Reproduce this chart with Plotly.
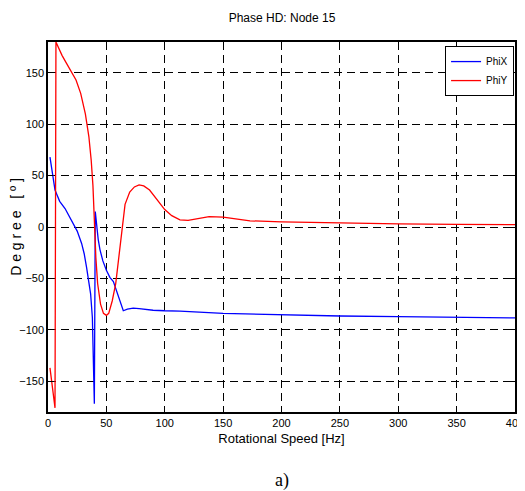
import plotly.graph_objects as go

# PhiY (red)
phiy_x = [1.7, 4, 6, 6.8, 8, 12, 16, 20, 24, 28, 32, 35, 37, 38.5, 39.5, 41, 42.5, 45, 47.5, 50, 52, 55, 58, 61.7, 64, 66, 70, 74, 78, 82, 87, 93, 100, 106, 113, 120, 128, 138, 150, 164, 173, 200, 250, 300, 350, 400]
phiy_y = [-137, -158, -176, 180, 177, 167, 159, 151, 143, 130, 110, 88, 65, 40, 5, -30, -55, -75, -84, -86, -84, -72, -55, -19, 3, 22, 34, 39, 41, 40, 36, 27, 17, 11, 7, 6.5, 8, 10, 9.7, 7.5, 6, 5, 3.8, 3, 2.6, 2.3]

# PhiX (blue)
phix_x = [1.7, 3, 4.5, 6, 7.4, 10, 14.6, 18, 21.7, 25, 28.8, 31, 33, 35, 36.5, 38, 39, 39.7, 40.5, 41.7, 43, 44.5, 47, 50, 53, 56, 58, 60, 62, 64.5, 68, 73, 78, 82, 90, 100, 113, 150, 200, 250, 300, 350, 400]
phix_y = [68, 58, 46, 36, 32, 25, 18, 11, 4, -4, -16, -26, -39, -52, -65, -88, -130, -172, 15, 0, -12, -22, -33, -42, -49, -53, -60, -66, -75, -81.5, -80, -79, -79.5, -80, -81, -81.5, -81.8, -84, -85.6, -86.6, -87.3, -87.8, -88.5]

x_ticks = [0, 50, 100, 150, 200, 250, 300, 350, 400]
y_ticks = [-150, -100, -50, 0, 50, 100, 150]

FONT = "Liberation Sans, Arial"

fig = go.Figure()
fig.add_trace(go.Scatter(x=phix_x, y=phix_y, mode="lines", name="PhiX",
                         line=dict(color="#0000ff", width=1.3)))
fig.add_trace(go.Scatter(x=phiy_x, y=phiy_y, mode="lines", name="PhiY",
                         line=dict(color="#ff0000", width=1.3)))

axis_common = dict(
    showline=True, linecolor="black", linewidth=1.5, mirror="ticks",
    ticks="inside", ticklen=5, tickcolor="black", tickwidth=1,
    showgrid=True, gridcolor="black", gridwidth=1, griddash="8px,5px",
    zeroline=False, tickfont=dict(family=FONT, size=11, color="black"),
    automargin=False,
)

# the page body has an 8px margin, so the figure is sized to fit the window
fig.update_layout(
    width=517, height=483,
    paper_bgcolor="white", plot_bgcolor="white",
    margin=dict(l=40, r=10, t=34, b=79),
    title=dict(text="Phase HD: Node 15", x=0.53, xanchor="center", y=0.979, yanchor="middle",
               font=dict(family=FONT, size=12, color="black"), automargin=False),
    xaxis=dict(range=[0, 400], tickvals=x_ticks,
               title=dict(text="Rotational Speed [Hz]", standoff=6,
                          font=dict(family=FONT, size=13, color="black")),
               **axis_common),
    yaxis=dict(range=[-180, 180], tickvals=y_ticks,
               title=dict(text="D e g r e e   [ º ]", standoff=6,
                          font=dict(family=FONT, size=14, color="black")),
               **axis_common),
    legend=dict(x=0.998, y=0.989, xanchor="right", yanchor="top",
                bgcolor="white", bordercolor="black", borderwidth=1,
                font=dict(family=FONT, size=10, color="black"),
                itemwidth=30, tracegroupgap=0),
    showlegend=True,
)

fig.add_annotation(text="a)", xref="paper", yref="paper", x=0.5, y=-0.184,
                   showarrow=False, xanchor="center", yanchor="middle",
                   font=dict(family="Liberation Serif, Times New Roman", size=18, color="black"))

fig.write_html("out.html")
